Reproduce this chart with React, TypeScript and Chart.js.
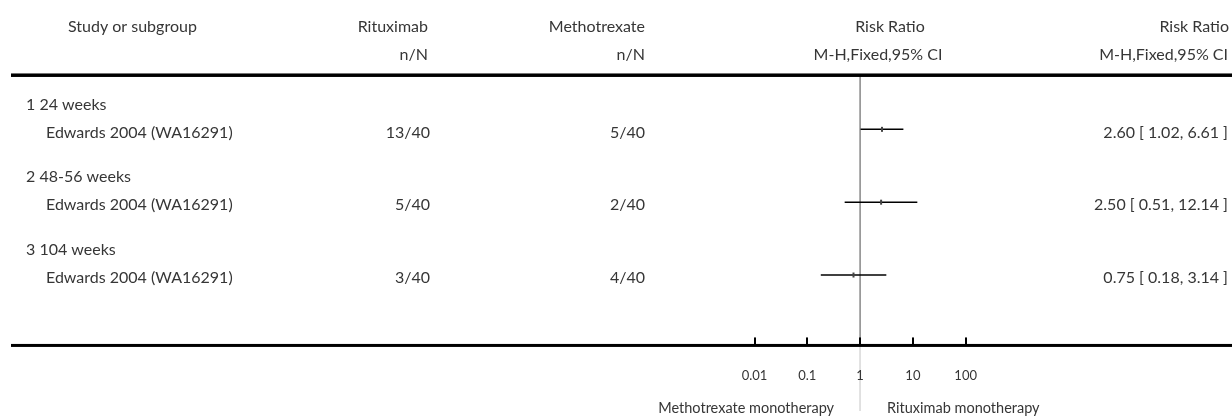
import React, { useEffect, useRef } from "react";
import { Chart, registerables } from "chart.js";

Chart.register(...registerables);

// ---- data ----
const subgroups = ["1 24 weeks", "2 48-56 weeks", "3 104 weeks"];
const studies = ["Edwards 2004 (WA16291)", "Edwards 2004 (WA16291)", "Edwards 2004 (WA16291)"];
const rituximabNN = ["13/40", "5/40", "3/40"];
const methotrexateNN = ["5/40", "2/40", "4/40"];
const riskRatio = [2.6, 2.5, 0.75];
const ciLower = [1.02, 0.51, 0.18];
const ciUpper = [6.61, 12.14, 3.14];
const tickValues = [0.01, 0.1, 1, 10, 100];
const tickLabels = ["0.01", "0.1", "1", "10", "100"];
const headerTop = ["Study or subgroup", "Rituximab", "Methotrexate", "Risk Ratio", "Risk Ratio"];
const headerBottom = ["", "n/N", "n/N", "M-H,Fixed,95% CI", "M-H,Fixed,95% CI"];
const favourLeft = "Methotrexate monotherapy";
const favourRight = "Rituximab monotherapy";

// ---- layout (row units on the y scale; study i sits at i + 1) ----
const W = 1232;
const H = 417;
const ROW_PX = 75;
const Y_MIN = -52 / ROW_PX;
const Y_MAX = Y_MIN + H / ROW_PX;
const X_PER_DECADE = 53.3;
const X_ONE = 862.5;
const X_MIN = Math.pow(10, -X_ONE / X_PER_DECADE);
const X_MAX = Math.pow(10, (W - X_ONE) / X_PER_DECADE);
const TOP_RULE = (71 - 52) / ROW_PX;
const AXIS = (349.5 - 52) / ROW_PX;

const FONT = "Lato, 'Open Sans', sans-serif";
const TEXT = "#363636";

const tablePlugin = {
  id: "forestTable",
  afterDraw(chart: any) {
    const ctx = chart.ctx as CanvasRenderingContext2D;
    const xs = chart.scales.x;
    const ys = chart.scales.y;
    const py = (v: number) => ys.getPixelForValue(v);
    ctx.save();
    // rules
    ctx.fillStyle = "#000";
    ctx.fillRect(11, py(TOP_RULE) - 1.5, W - 11, 3.5);
    ctx.fillRect(11, py(AXIS) - 1.5, W - 11, 3);
    // ticks
    tickValues.forEach((t) => {
      const x = Math.round(xs.getPixelForValue(t));
      ctx.fillRect(x - 1, py(AXIS) - 8, 2, 7);
    });
    ctx.fillStyle = TEXT;
    ctx.textBaseline = "middle";
    // header
    ctx.font = `16px ${FONT}`;
    const h1 = 27;
    const h2 = 55;
    ctx.textAlign = "left";
    ctx.fillText(headerTop[0], 68, h1);
    ctx.textAlign = "right";
    ctx.fillText(headerTop[1], 428, h1);
    ctx.fillText(headerBottom[1], 428, h2);
    ctx.fillText(headerTop[2], 645, h1);
    ctx.fillText(headerBottom[2], 645, h2);
    ctx.textAlign = "center";
    ctx.fillText(headerTop[3], 890, h1);
    ctx.fillText(headerBottom[3], 878, h2);
    ctx.textAlign = "right";
    ctx.fillText(headerTop[4], 1229, h1);
    ctx.fillText(headerBottom[4], 1228, h2);
    // rows
    studies.forEach((s, i) => {
      const y = py(i + 1);
      ctx.textAlign = "left";
      ctx.fillText(subgroups[i], 26, y - 25);
      ctx.fillText(s, 46, y + 3);
      ctx.textAlign = "right";
      ctx.fillText(rituximabNN[i], 430, y + 3);
      ctx.fillText(methotrexateNN[i], 645, y + 3);
      const txt = `${riskRatio[i].toFixed(2)} [ ${ciLower[i].toFixed(2)}, ${ciUpper[i].toFixed(2)} ]`;
      ctx.fillText(txt, 1228, y + 3);
    });
    // tick labels
    ctx.font = `13px ${FONT}`;
    ctx.textAlign = "center";
    tickValues.forEach((t, i) => {
      ctx.fillText(tickLabels[i], xs.getPixelForValue(t), 376);
    });
    // favours labels
    ctx.font = `14.5px ${FONT}`;
    ctx.textAlign = "right";
    ctx.fillText(favourLeft, xs.getPixelForValue(1) - 26, 408);
    ctx.textAlign = "left";
    ctx.fillText(favourRight, xs.getPixelForValue(1) + 27, 408);
    ctx.restore();
  },
};

export default function App() {
  const ref = useRef<HTMLCanvasElement | null>(null);
  useEffect(() => {
    if (!ref.current) return;
    const ciSets = studies.map((_, i) => ({
      type: "line" as const,
      data: [
        { x: ciLower[i], y: i + 1 },
        { x: ciUpper[i], y: i + 1 },
      ],
      borderColor: "#000",
      borderWidth: 1.5,
      pointRadius: 0,
      order: 2,
    }));
    const chart = new Chart(ref.current, {
      type: "scatter",
      data: {
        datasets: [
          {
            type: "line",
            data: [
              { x: 1, y: TOP_RULE },
              { x: 1, y: AXIS },
            ],
            borderColor: "#888",
            borderWidth: 1.5,
            pointRadius: 0,
            order: 3,
          },
          {
            type: "line",
            data: [
              { x: 1, y: AXIS },
              { x: 1, y: Y_MAX },
            ],
            borderColor: "#ddd",
            borderWidth: 1,
            pointRadius: 0,
            order: 3,
          },
          ...ciSets,
          {
            type: "scatter",
            data: riskRatio.map((v, i) => ({ x: v, y: i + 1 })),
            pointStyle: "line",
            rotation: 90,
            radius: 2.5,
            borderWidth: 2,
            borderColor: "#444",
            backgroundColor: "#444",
            order: 1,
          },
        ] as any,
      },
      options: {
        responsive: false,
        animation: false,
        layout: { padding: 0 },
        plugins: { legend: { display: false }, tooltip: { enabled: false } },
        scales: {
          x: { type: "logarithmic", min: X_MIN, max: X_MAX, display: false },
          y: { type: "linear", min: Y_MIN, max: Y_MAX, reverse: true, display: false },
        },
      },
      plugins: [tablePlugin],
    });
    return () => chart.destroy();
  }, []);
  return (
    <div style={{ position: "fixed", left: 0, top: 0, width: W, height: H, background: "#fff" }}>
      <canvas ref={ref} width={W} height={H} style={{ width: W, height: H }} />
    </div>
  );
}
